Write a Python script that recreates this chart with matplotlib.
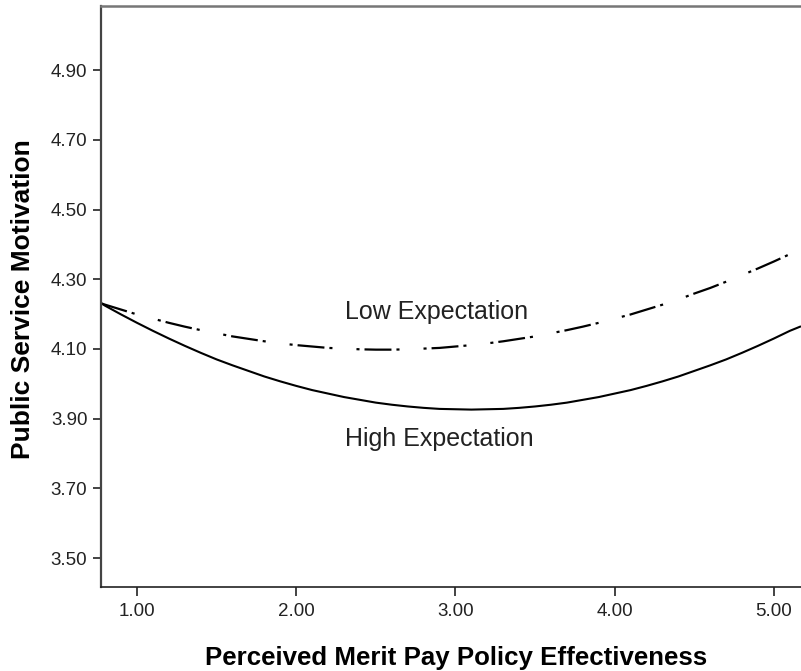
import matplotlib
matplotlib.use('Agg')
import matplotlib.pyplot as plt

plt.rcParams['font.family'] = ['Liberation Sans', 'DejaVu Sans']
plt.rcParams['lines.scale_dashes'] = False

# Values
effectiveness = [0.775, 0.8, 0.9, 1.0, 1.1, 1.2, 1.3, 1.4, 1.5, 1.6, 1.7, 1.8, 1.9,
                 2.0, 2.1, 2.2, 2.3, 2.4, 2.5, 2.6, 2.7, 2.8, 2.9, 3.0, 3.1, 3.2,
                 3.3, 3.4, 3.5, 3.6, 3.7, 3.8, 3.9, 4.0, 4.1, 4.2, 4.3, 4.4, 4.5,
                 4.6, 4.7, 4.8, 4.9, 5.0, 5.1, 5.17]
psm_high = [4.231, 4.224, 4.199, 4.175, 4.152, 4.130, 4.109, 4.089, 4.070, 4.053,
            4.037, 4.021, 4.007, 3.994, 3.982, 3.972, 3.962, 3.954, 3.946, 3.940,
            3.935, 3.931, 3.928, 3.927, 3.926, 3.927, 3.928, 3.931, 3.935, 3.940,
            3.946, 3.954, 3.962, 3.972, 3.982, 3.994, 4.007, 4.021, 4.037, 4.053,
            4.070, 4.089, 4.109, 4.130, 4.152, 4.165]
psm_low = [4.231, 4.227, 4.213, 4.199, 4.187, 4.175, 4.164, 4.154, 4.145, 4.136,
           4.129, 4.122, 4.116, 4.111, 4.107, 4.103, 4.101, 4.099, 4.098, 4.098,
           4.099, 4.101, 4.103, 4.107, 4.111, 4.116, 4.122, 4.129, 4.136, 4.145,
           4.154, 4.164, 4.175, 4.187, 4.199, 4.213, 4.227, 4.242, 4.259, 4.275,
           4.293, 4.312, 4.331, 4.351, 4.372, 4.388]

x_ticks = [1.0, 2.0, 3.0, 4.0, 5.0]
y_ticks = [3.5, 3.7, 3.9, 4.1, 4.3, 4.5, 4.7, 4.9]

fig = plt.figure(figsize=(8.01, 6.71), dpi=100)
ax = fig.add_axes([101 / 801, 84 / 671, 700 / 801, 581 / 671])

ax.plot(effectiveness, psm_high, color='black', lw=1.5, solid_capstyle='butt',
        solid_joinstyle='round')
# dash-dot pattern as in the reference (dash, dot, long gap, dot)
ax.plot(effectiveness, psm_low, color='black', lw=1.6,
        dashes=[19.4, 3.6, 2.2, 17.3, 2.2, 3.6], dash_capstyle='butt')

ax.text(2.306, 4.207, 'Low Expectation', fontsize=18, color='#222222',
        ha='left', va='center')
ax.text(2.306, 3.841, 'High Expectation', fontsize=18, color='#222222',
        ha='left', va='center')

ax.set_xlim(0.774, 5.17)
ax.set_ylim(3.417, 5.084)
ax.set_xticks(x_ticks)
ax.set_xticklabels(['%.2f' % t for t in x_ticks])
ax.set_yticks(y_ticks)
ax.set_yticklabels(['%.2f' % t for t in y_ticks])
ax.tick_params(axis='x', length=6.5, width=1.2, pad=5, labelsize=13.5,
               color='#222222', labelcolor='#222222')
ax.tick_params(axis='y', length=5.8, width=1.2, pad=4, labelsize=13.5,
               color='#222222', labelcolor='#222222')

ax.spines['right'].set_visible(False)
ax.spines['top'].set_color('#777777')
ax.spines['top'].set_linewidth(1.8)
ax.spines['left'].set_color('#444444')
ax.spines['left'].set_linewidth(1.6)
ax.spines['bottom'].set_color('#222222')
ax.spines['bottom'].set_linewidth(1.2)

fig.text(456 / 801, 1 - 658 / 671, 'Perceived Merit Pay Policy Effectiveness',
         fontsize=18.6, fontweight='bold', ha='center', va='center')
fig.text(23 / 801, 1 - 299 / 671, 'Public Service Motivation', fontsize=19,
         fontweight='bold', ha='center', va='center', rotation=90)

fig.savefig('out.png', dpi=100)
